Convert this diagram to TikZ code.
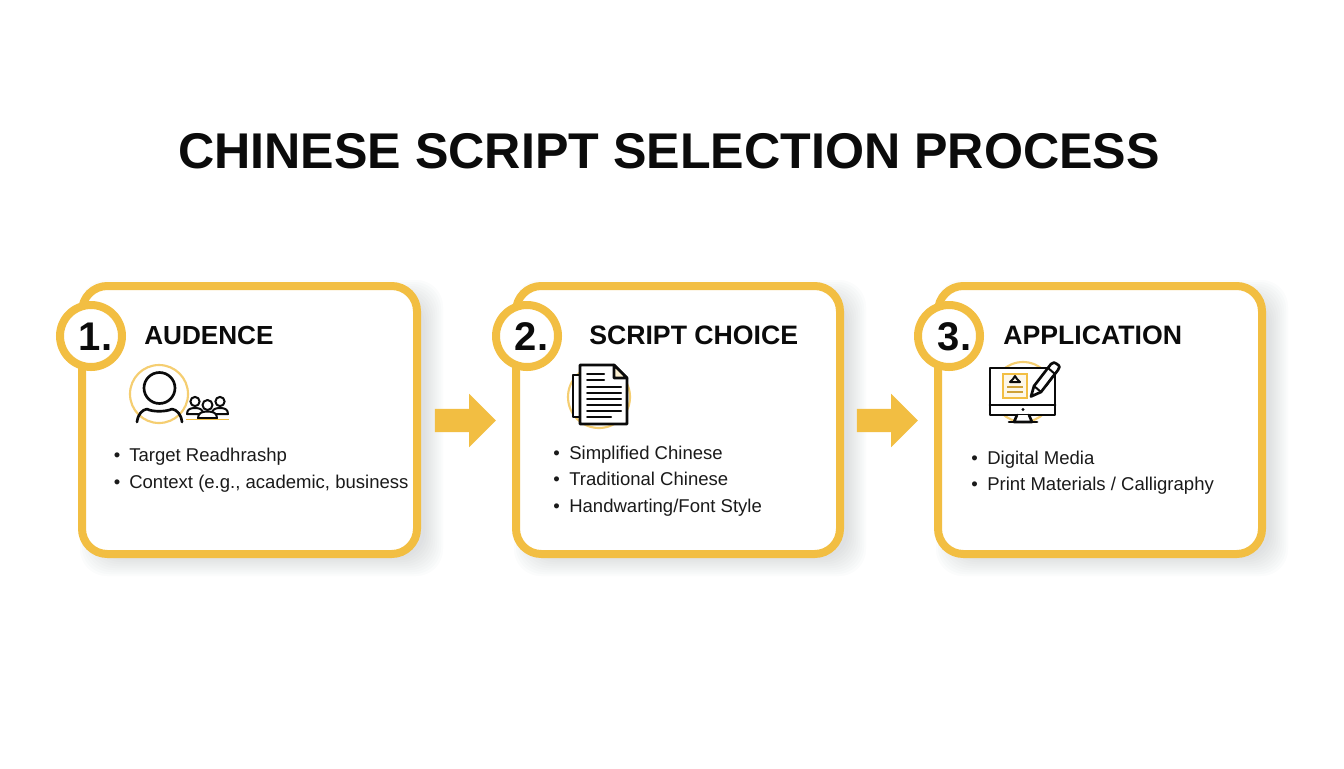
\documentclass[tikz,border=0pt]{standalone}
\usepackage{fontspec}
\setmainfont{Liberation Sans}
\usetikzlibrary{shapes.arrows}
\definecolor{gold}{HTML}{F2BE42}
\definecolor{ink}{HTML}{0B0B0B}
\definecolor{body}{HTML}{1A1A1A}
\definecolor{shade}{HTML}{3A4468}
\tikzset{
  x=0.75pt,y=-0.75pt,
  cardbox/.style={draw=gold,line width=6pt,fill=white,rounded corners=19pt,minimum height=201pt,inner sep=0pt},
  cardshade/.style={fill=shade,opacity=0.016,rounded corners=20pt},
  badge/.style={circle,draw=gold,line width=6pt,fill=white,minimum size=46.5pt,inner sep=0pt},
  badgetext/.style={inner sep=0pt,text=ink,font=\bfseries\fontsize{30}{30}\selectfont},
  heading/.style={anchor=base west,inner sep=0pt,text=ink,font=\bfseries\fontsize{20}{20}\selectfont},
  item/.style={anchor=base west,inner sep=0pt,text=body,font=\fontsize{13.9}{16}\selectfont},
  blockarrow/.style={single arrow,fill=gold,text height=8.6pt,text depth=8.6pt,text width=0pt,minimum height=45.75pt,single arrow head extend=11.25pt,single arrow head indent=0pt,inner sep=0pt},
  halo/.style={draw=gold,line width=1.6pt,opacity=0.75},
  icon/.style={draw=ink,line width=2pt,line join=round,line cap=round},
  iconthin/.style={draw=ink,line width=1.5pt,line join=round,line cap=round},
}
\begin{document}
\begin{tikzpicture}
\useasboundingbox (0,0) rectangle (1344,768);
\fill[white] (0,0) rectangle (1344,768);

\node[anchor=base,inner sep=0pt,text=ink,font=\bfseries\fontsize{37.65}{40}\selectfont] (title) at (669,168) {CHINESE SCRIPT SELECTION PROCESS};

% soft shadows
\foreach \l/\r in {78/421,512/844,934/1266}{
  \foreach \g in {-8,-6,...,10}{
    \fill[cardshade] (\l+12-\g,282+8-\g) rectangle (\r+12+\g,558+8+\g);
  }
}

% cards
\node[cardbox,minimum width=251.25pt] (card1) at (249.5,420) {};
\node[cardbox,minimum width=243pt] (card2) at (678,420) {};
\node[cardbox,minimum width=243pt] (card3) at (1100,420) {};

\node[badge] (n1) at (91,336) {};
\node[badge] (n2) at (527,336) {};
\node[badge] (n3) at (949,336) {};
\node[badgetext] (d1) at (95.5,336.5) {1.};
\node[badgetext] (d2) at (531.5,336.5) {2.};
\node[badgetext] (d3) at (954.5,336.5) {3.};

\node[heading] (h1) at (144,344) {\fontsize{19.6}{20}\selectfont AUDENCE};
\node[heading] (h2) at (589,344) {SCRIPT CHOICE};
\node[heading] (h3) at (1003,344) {APPLICATION};

% arrows
\node[blockarrow] (a1) at (459.5,420.5) {};
\node[blockarrow] (a2) at (881.5,420.5) {};

% icon 1: audience
\draw[halo] (159,394) circle (29);
\draw[icon] (159.5,388) circle (15.5);
\draw[icon] (137,422) .. controls (138,414) and (142,410) .. (147,409) .. controls (152,412) and (166,412) .. (172,409) .. controls (177,410) and (181,414) .. (182,422);
\foreach \cx/\cy in {195/401.5,220/401.5}{
  \draw[iconthin] (\cx,\cy) circle (4.6);
  \draw[iconthin] (\cx-8,\cy+12.5) .. controls (\cx-8,\cy+8) and (\cx-5,\cy+6.5) .. (\cx,\cy+6.5) .. controls (\cx+5,\cy+6.5) and (\cx+8,\cy+8) .. (\cx+8,\cy+12.5) -- cycle;
}
\draw[iconthin,fill=white] (207.5,405) circle (5);
\draw[iconthin,fill=white] (198,418) .. controls (198,413) and (202,411.5) .. (207.5,411.5) .. controls (213,411.5) and (217,413) .. (217,418) -- cycle;
\draw[gold,line width=0.9pt] (186,419.5) -- (229,419.5);

% icon 2: document
\draw[halo] (599,397) circle (31);
\draw[icon,fill=white] (580,375) -- (573,375) -- (573,417) -- (580,417);
\draw[icon,fill=white] (580,365) -- (614,365) -- (627,378) -- (627,424) -- (580,424) -- cycle;
\draw[icon,fill=gold!25] (614,365) -- (614,378) -- (627,378) -- cycle;
\foreach \yy in {374,380}{\draw[iconthin] (587,\yy) -- (604,\yy);}
\foreach \yy in {387,393,399,405,411}{\draw[iconthin] (587,\yy) -- (621,\yy);}
\draw[iconthin] (587,416.5) -- (611,416.5);

% icon 3: monitor and pen
\draw[halo] (1023,392) circle (30);
\draw[icon,fill=white] (990,368) rectangle (1055,415);
\draw[icon] (990,405) -- (1055,405);
\fill[ink] (1023,409.5) circle (1.6);
\draw[icon,fill=white] (1017,415) -- (1014,422) -- (1032,422) -- (1029,415);
\draw[icon] (1009,422) -- (1037,422);
\draw[gold,line width=2pt,fill=gold!12] (1003,374) rectangle (1027,398);
\draw[iconthin] (1010,382) -- (1020,382) -- (1017,379) -- (1015,376) -- (1013,379) -- cycle;
\draw[gold!85!black,line width=1.5pt] (1007,387) -- (1023,387);
\draw[gold!85!black,line width=1.5pt] (1007,392) -- (1023,392);
\draw[icon,fill=white] (1031,396.5) -- (1034,386) -- (1051,364) .. controls (1053,362) and (1055,362) .. (1057,364) .. controls (1060,366) and (1060,368) .. (1058,370) -- (1041,392) -- cycle;
\draw[iconthin] (1048,368) -- (1055,374);
\draw[iconthin] (1034,386) -- (1041,392);
\draw[iconthin] (1046,386) -- (1053,376);

% lists
\node[item] (t11) at (129,461) {Target Readhrashp};
\node[item] (t12) at (129,488) {Context (e.g., academic, business};
\node[item] (b11) at (113.5,461) {•};
\node[item] (b12) at (113.5,488) {•};

\node[item] (t21) at (569,459) {Simplified Chinese};
\node[item] (t22) at (569,485) {Traditional Chinese};
\node[item] (t23) at (569,512) {Handwarting/Font Style};
\node[item] (b21) at (553,459) {•};
\node[item] (b22) at (553,485) {•};
\node[item] (b23) at (553,512) {•};

\node[item] (t31) at (987,464) {Digital Media};
\node[item] (t32) at (987,490) {Print Materials / Calligraphy};
\node[item] (b31) at (971,464) {•};
\node[item] (b32) at (971,490) {•};
\end{tikzpicture}
\end{document}
